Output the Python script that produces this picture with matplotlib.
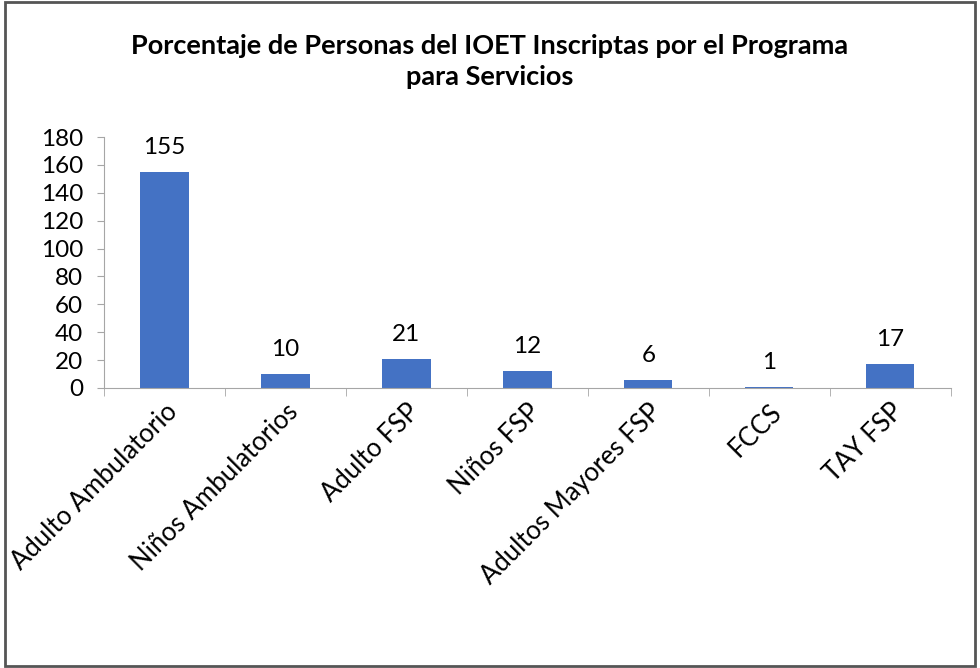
import matplotlib.pyplot as plt
from matplotlib.patches import Rectangle

categorias = ["Adulto Ambulatorio", "Niños Ambulatorios", "Adulto FSP", "Niños FSP",
              "Adultos Mayores FSP", "FCCS", "TAY FSP"]
valores = [155, 10, 21, 12, 6, 1, 17]
titulo = "Porcentaje de Personas del IOET Inscriptas por el Programa\npara Servicios"

plt.rcParams['font.family'] = ['Lato', 'DejaVu Sans']

fig = plt.figure(figsize=(9.8, 6.68), dpi=100)
ax = fig.add_axes([0.1061, 0.4192, 0.864, 0.3757])

x = list(range(len(categorias)))
ax.bar(x, valores, width=0.4, color="#4472C4", zorder=2)
for xi, v in zip(x, valores):
    ax.annotate(str(v), (xi, v), xytext=(0, 10), textcoords="offset points",
                ha="center", va="bottom", fontsize=17.5)

ax.set_xlim(-0.5, len(categorias) - 0.5)
ax.set_ylim(0, 180)
ax.set_yticks(range(0, 181, 20))
ax.tick_params(axis="y", labelsize=17.5, length=5, color="#A6A6A6", direction="out", pad=10)
ax.set_xticks(x)
ax.set_xticklabels(categorias, rotation=45, ha="right", rotation_mode="anchor", fontsize=18.5)
ax.tick_params(axis="x", length=0, pad=8)
ax.set_xticks([i - 0.5 for i in range(len(categorias) + 1)], minor=True)
ax.tick_params(axis="x", which="minor", length=6, color="#A6A6A6")
for s in ["top", "right"]:
    ax.spines[s].set_visible(False)
ax.spines["left"].set_color("#A6A6A6")
ax.spines["bottom"].set_color("#A6A6A6")

fig.text(0.50, 0.908, titulo, ha="center", va="center", fontsize=19.5,
         fontweight="bold", linespacing=1.32)

fig.patches.append(Rectangle((0.005, 0.003), 0.99, 0.994, transform=fig.transFigure,
                             fill=False, edgecolor="#555555", linewidth=2))

fig.savefig("out.png", dpi=100)
